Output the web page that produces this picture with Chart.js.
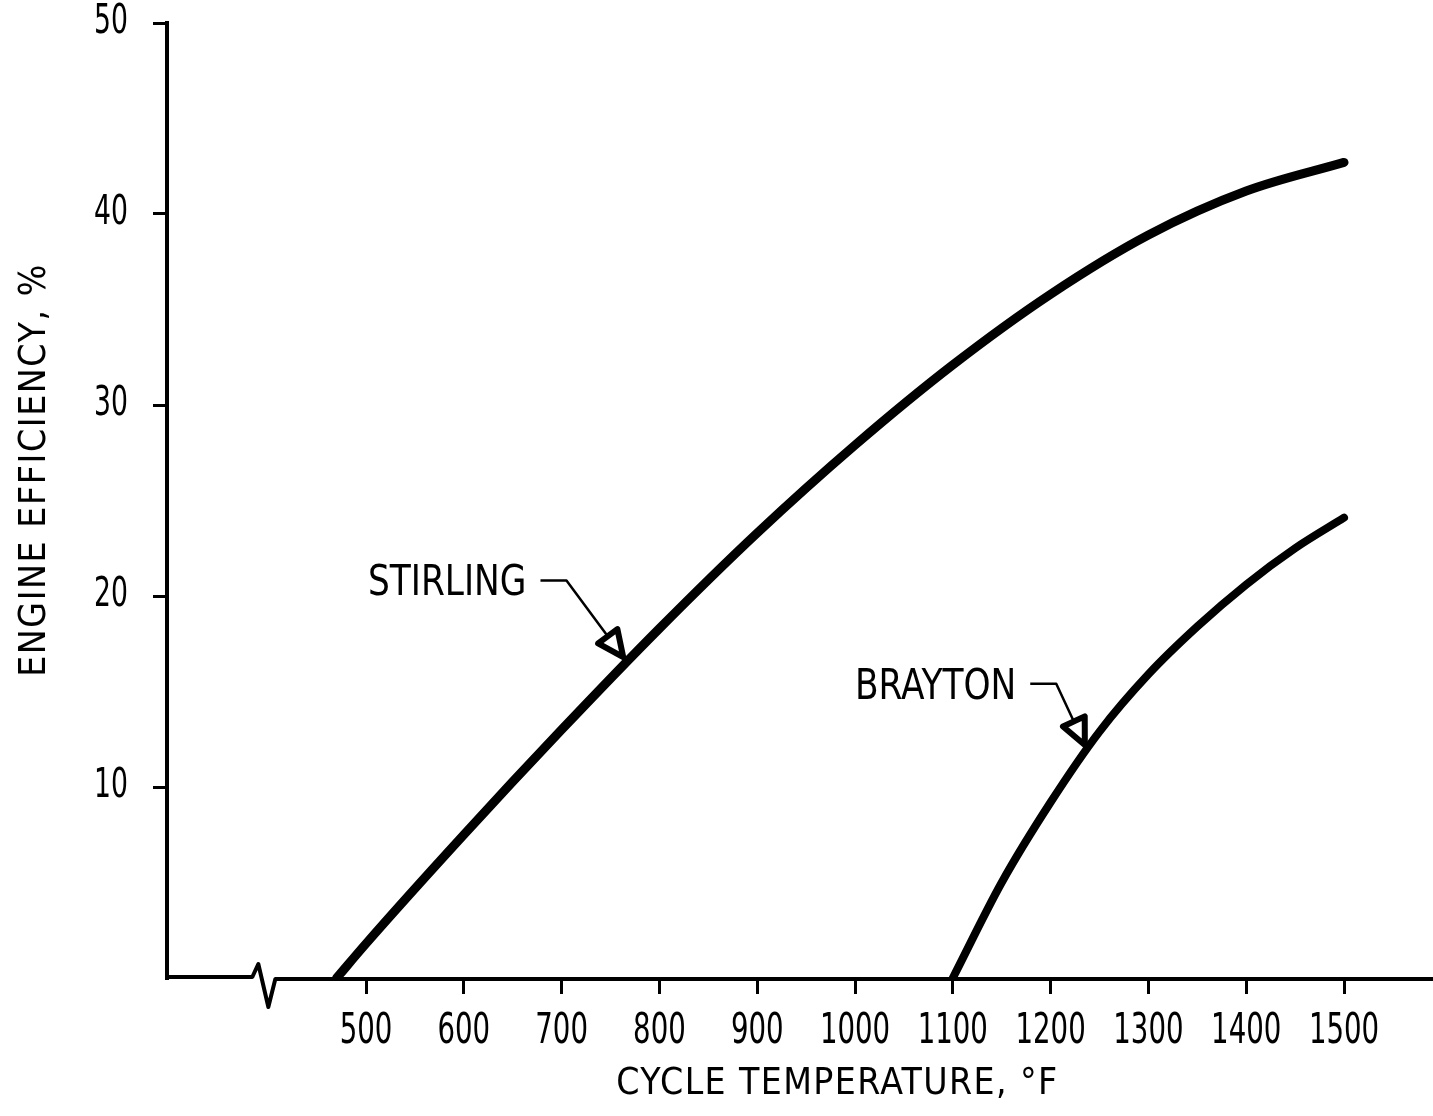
<!DOCTYPE html>
<html>
<head>
<meta charset="utf-8">
<script src="https://cdn.jsdelivr.net/npm/chart.js@4.4.1/dist/chart.umd.min.js"></script>
<style>
  html, body { margin: 0; padding: 0; background: #fff; }
  #wrap { width: 1433px; height: 1116px; }
</style>
</head>
<body>
<div id="wrap"><canvas id="chart"></canvas></div>
<script>
// valores (temperatura em °F, eficiência em %)
const stirlingTemp = [470, 500, 600, 700, 800, 900, 1000, 1100, 1200, 1300, 1400, 1500];
const stirlingEff  = [0, 1.8, 7.5, 13.0, 18.3, 23.3, 27.9, 32.1, 35.8, 38.9, 41.2, 42.7];

const braytonTemp = [1100, 1150, 1200, 1250, 1300, 1350, 1400, 1450, 1500];
const braytonEff  = [0, 5.0, 9.2, 12.9, 15.9, 18.4, 20.6, 22.5, 24.1];

const xTicks = [500, 600, 700, 800, 900, 1000, 1100, 1200, 1300, 1400, 1500];
const yTicks = [10, 20, 30, 40, 50];

// rótulos das curvas e ponta da seta (em unidades do gráfico)
const labelNames = ['STIRLING', 'BRAYTON'];
const labelTemp  = [502, 1000];
const labelEff   = [20.6, 15.2];
const arrowTemp  = [763, 1235];
const arrowEff   = [16.8, 12.2];

const xBreakAt = 395;   // quebra do eixo x

const FONT = "'DejaVu Sans Condensed', 'DejaVu Sans', sans-serif";

const toPoints = (xs, ys) => xs.map((v, i) => ({ x: v, y: ys[i] }));

// texto estreito (escala horizontal), como no desenho original
function drawText(ctx, text, x, y, size, sx, spacing, align) {
    ctx.save();
    ctx.font = size + 'px ' + FONT;
    ctx.letterSpacing = spacing + 'px';
    ctx.textAlign = align;
    ctx.textBaseline = 'middle';
    ctx.translate(x, y);
    ctx.scale(sx, 1);
    ctx.fillText(text, 0, 0);
    const w = ctx.measureText(text).width * sx;
    ctx.restore();
    return w;
}

const decorPlugin = {
    id: 'decor',
    afterDraw(chart) {
        const { ctx, chartArea, scales: { x, y } } = chart;
        ctx.save();
        ctx.strokeStyle = '#000';
        ctx.fillStyle = '#000';

        // eixo x com a quebra
        const y0 = y.getPixelForValue(0);
        const bx = x.getPixelForValue(xBreakAt);
        ctx.lineWidth = 4;
        ctx.lineJoin = 'round';
        ctx.beginPath();
        ctx.moveTo(chartArea.left - 2, y0 - 1);
        ctx.lineTo(bx - 11, y0 - 1);
        ctx.lineTo(bx - 5, y0 - 14);
        ctx.lineTo(bx + 5, y0 + 29);
        ctx.lineTo(bx + 12, y0 + 1);
        ctx.lineTo(chartArea.right, y0 + 1);
        ctx.stroke();

        // rótulos dos ticks
        xTicks.forEach(v => drawText(ctx, String(v), x.getPixelForValue(v), 1032, 42, 0.73, 0, 'center'));
        yTicks.forEach(v => drawText(ctx, String(v), 128, y.getPixelForValue(v), 40, 0.74, 0, 'right'));

        // rótulos com setas
        labelNames.forEach((name, i) => {
            const px = x.getPixelForValue(labelTemp[i]);
            const py = y.getPixelForValue(labelEff[i]);
            const w = drawText(ctx, name, px, py, 42, 0.91, 0, 'left');
            const sx = px + w + 14;
            const ex = sx + 26;
            const ly = py - 4;
            const tx = x.getPixelForValue(arrowTemp[i]);
            const ty = y.getPixelForValue(arrowEff[i]);
            let dx = tx - ex, dy = ty - ly;
            const len = Math.hypot(dx, dy);
            dx /= len; dy /= len;
            const bxp = tx - dx * 26, byp = ty - dy * 26;
            ctx.lineWidth = 2.5;
            ctx.beginPath();
            ctx.moveTo(sx, ly);
            ctx.lineTo(ex, ly);
            ctx.lineTo(bxp, byp);
            ctx.stroke();
            ctx.beginPath();
            ctx.moveTo(tx, ty);
            ctx.lineTo(bxp - dy * 12, byp + dx * 12);
            ctx.lineTo(bxp + dy * 12, byp - dx * 12);
            ctx.closePath();
            ctx.fillStyle = '#fff';
            ctx.fill();
            ctx.lineWidth = 6;
            ctx.stroke();
            ctx.fillStyle = '#000';
        });

        // títulos dos eixos
        drawText(ctx, 'CYCLE TEMPERATURE, °F', x.getPixelForValue(982), 1084, 37, 1, 1.4, 'center');
        ctx.translate(35, y.getPixelForValue(26.6));
        ctx.rotate(-Math.PI / 2);
        drawText(ctx, 'ENGINE EFFICIENCY, %', 0, 0, 37, 1, 1.6, 'center');
        ctx.restore();
    }
};

new Chart(document.getElementById('chart'), {
    type: 'line',
    data: {
        datasets: [
            {
                label: 'Stirling',
                data: toPoints(stirlingTemp, stirlingEff),
                borderColor: '#000',
                borderWidth: 9,
                borderCapStyle: 'round',
                pointRadius: 0,
                cubicInterpolationMode: 'monotone'
            },
            {
                label: 'Brayton',
                data: toPoints(braytonTemp, braytonEff),
                borderColor: '#000',
                borderWidth: 8,
                borderCapStyle: 'round',
                pointRadius: 0,
                cubicInterpolationMode: 'monotone'
            }
        ]
    },
    options: {
        responsive: true,
        maintainAspectRatio: false,
        animation: false,
        layout: { padding: { top: 23, right: 0, left: 0, bottom: 0 } },
        plugins: {
            legend: { display: false },
            tooltip: { enabled: false }
        },
        scales: {
            x: {
                type: 'linear',
                min: 296.5,
                max: 1591,
                afterBuildTicks: s => { s.ticks = xTicks.map(v => ({ value: v })); },
                afterFit: s => { s.height = 138; s.paddingLeft = 0; s.paddingRight = 0; },
                ticks: { display: false },
                grid: {
                    drawOnChartArea: false,
                    tickLength: 16,
                    lineWidth: 3,
                    color: '#000'
                },
                border: { display: false }
            },
            y: {
                min: 0,
                max: 50,
                afterBuildTicks: s => { s.ticks = yTicks.map(v => ({ value: v })); },
                afterFit: s => { s.width = 167; s.paddingTop = 0; s.paddingBottom = 0; },
                ticks: { display: false },
                grid: {
                    drawOnChartArea: false,
                    tickLength: 14,
                    lineWidth: 3,
                    color: '#000'
                },
                border: { display: true, color: '#000', width: 4 }
            }
        }
    },
    plugins: [decorPlugin]
});
</script>
</body>
</html>
